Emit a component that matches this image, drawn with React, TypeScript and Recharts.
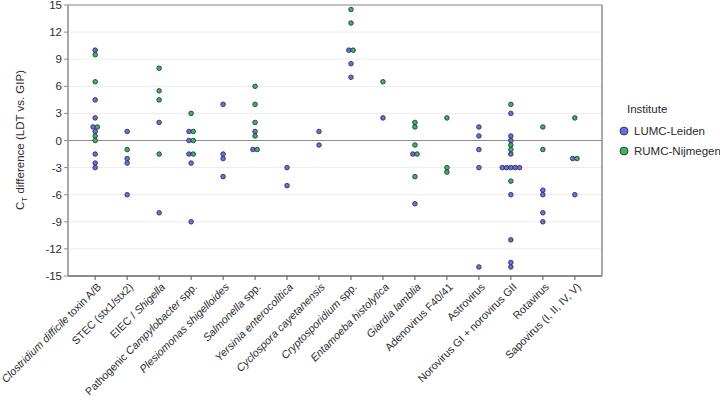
import { CartesianGrid, ReferenceLine, Scatter, ScatterChart, XAxis, YAxis } from 'recharts';

// Category labels; *...* marks italic (species names)
const categories = [
    '*Clostridium difficile* toxin A/B',
    'STEC (stx1/stx2)',
    'EIEC / *Shigella*',
    'Pathogenic *Campylobacter* spp.',
    '*Plesiomonas shigelloides*',
    '*Salmonella* spp.',
    '*Yersinia enterocolitica*',
    '*Cyclospora cayetanensis*',
    '*Cryptosporidium* spp.',
    '*Entamoeba histolytica*',
    '*Giardia lamblia*',
    'Adenovirus F40/41',
    'Astrovirus',
    'Norovirus GI + norovirus GII',
    'Rotavirus',
    'Sapovirus (I, II, IV, V)',
];

// CT differences per category, LUMC-Leiden
const lumcValues: number[][] = [
    [10, 4.5, 2.5, 1.5, 1, -1.5, -2.5, -3],
    [1, -2, -2.5, -6],
    [2, -8],
    [1, 0, -1.5, -2.5, -9],
    [4, -1.5, -2, -4],
    [1, -1],
    [-3, -5],
    [1, -0.5],
    [10, 8.5, 7],
    [2.5],
    [-1.5, -7],
    [],
    [1.5, 0.5, -1, -3, -14],
    [3, 0.5, 0, -1.5, -3, -3, -3, -3, -3, -6, -11, -13.5, -14],
    [-5.5, -6, -8, -9],
    [-2, -6],
];

// CT differences per category, RUMC-Nijmegen
const rumcValues: number[][] = [
    [9.5, 6.5, 1.5, 0.5, 0],
    [-1],
    [8, 5.5, 4.5, -1.5],
    [3, 1, 0, -1.5],
    [],
    [6, 4, 2, 0.5, -1],
    [],
    [],
    [14.5, 13, 10],
    [6.5],
    [2, 1.5, -0.5, -1.5, -4],
    [2.5, -3, -3.5],
    [],
    [4, -0.5, -1, -4.5],
    [1.5, -1],
    [2.5, -2],
];

const yTicks = [-15, -12, -9, -6, -3, 0, 3, 6, 9, 12, 15];

const BLUE = '#6a6ee0';
const GREEN = '#3fb35a';
const SPREAD = 0.135; // horizontal spacing between tied points, in category units

// spread points with identical value side by side (blue first, then green)
function buildSeries() {
    const lumc: { x: number; y: number }[] = [];
    const rumc: { x: number; y: number }[] = [];
    categories.forEach((_, ci) => {
        const groups = new Map<number, { s: 'l' | 'r' }[]>();
        const all = [
            ...lumcValues[ci].map((v) => ({ v, s: 'l' as const })),
            ...rumcValues[ci].map((v) => ({ v, s: 'r' as const })),
        ];
        for (const p of all) {
            if (!groups.has(p.v)) groups.set(p.v, []);
            groups.get(p.v)!.push({ s: p.s });
        }
        groups.forEach((pts, v) => {
            pts.forEach((p, i) => {
                const x = ci + (i - (pts.length - 1) / 2) * SPREAD;
                (p.s === 'l' ? lumc : rumc).push({ x, y: v });
            });
        });
    });
    return { lumc, rumc };
}

const { lumc, rumc } = buildSeries();

const Dot = (props: any) => {
    const { cx, cy, fill } = props;
    if (cx == null || cy == null) return null;
    return <circle cx={cx} cy={cy} r={2.3} fill={fill} stroke="#1f2a3a" strokeWidth={0.8} />;
};

const CategoryTick = (props: any) => {
    const { x, y, payload } = props;
    const label = categories[payload.value] ?? '';
    const parts = label.split('*');
    return (
        <g transform={`translate(${x + 4},${y + 3})`}>
            <text transform="rotate(-45)" textAnchor="end" dy="0.35em" fontSize={10.8} fill="#2b2b2b">
                {parts.map((p, i) =>
                    p ? (
                        <tspan key={i} fontStyle={i % 2 === 1 ? 'italic' : 'normal'}>
                            {p}
                        </tspan>
                    ) : null,
                )}
            </text>
        </g>
    );
};

const YLabel = () => (
    <text transform="translate(24,140) rotate(-90)" textAnchor="middle" fontSize={11.5} fill="#2b2b2b">
        <tspan>C</tspan>
        <tspan dy={3} fontSize={8}>
            T
        </tspan>
        <tspan dy={-3}> difference (LDT vs. GIP)</tspan>
    </text>
);

export default function App() {
    return (
        <div style={{ position: 'absolute', left: 0, top: 0, fontFamily: 'Liberation Sans, Arial, sans-serif' }}>
            <ScatterChart width={720} height={411} margin={{ top: 5, right: 118, bottom: 0, left: 0 }}>
                <CartesianGrid vertical={false} stroke="#ececec" />
                <XAxis
                    type="number"
                    dataKey="x"
                    domain={[-0.85, 15.85]}
                    ticks={categories.map((_, i) => i)}
                    interval={0}
                    allowDataOverflow
                    height={135}
                    tickSize={4}
                    tickLine={{ stroke: '#555' }}
                    axisLine={{ stroke: '#8c8c8c', strokeWidth: 2 }}
                    tick={<CategoryTick />}
                />
                <YAxis
                    type="number"
                    dataKey="y"
                    domain={[-15, 15]}
                    ticks={yTicks}
                    interval={0}
                    width={68}
                    tickSize={4}
                    tickLine={{ stroke: '#8c8c8c' }}
                    axisLine={{ stroke: '#8c8c8c', strokeWidth: 1.5 }}
                    tick={{ fontSize: 11.5, fill: '#2b2b2b' }}
                    label={<YLabel />}
                />
                <ReferenceLine y={0} stroke="#8c8c8c" strokeWidth={1.2} />
                <ReferenceLine y={15} stroke="#8c8c8c" strokeWidth={1.2} />
                <ReferenceLine x={15.85} stroke="#8c8c8c" strokeWidth={1.5} />
                <Scatter name="LUMC-Leiden" data={lumc} fill={BLUE} shape={<Dot />} isAnimationActive={false} />
                <Scatter name="RUMC-Nijmegen" data={rumc} fill={GREEN} shape={<Dot />} isAnimationActive={false} />
                {/* legend */}
                <text x={627} y={113} fontSize={11.5} fill="#2b2b2b">
                    Institute
                </text>
                <circle cx={624} cy={131} r={4} fill={BLUE} stroke="#1f2a3a" strokeWidth={0.8} />
                <text x={634} y={135} fontSize={11.5} fill="#2b2b2b">
                    LUMC-Leiden
                </text>
                <circle cx={624} cy={151} r={4} fill={GREEN} stroke="#1f2a3a" strokeWidth={0.8} />
                <text x={634} y={155} fontSize={11.5} fill="#2b2b2b">
                    RUMC-Nijmegen
                </text>
            </ScatterChart>
        </div>
    );
}
